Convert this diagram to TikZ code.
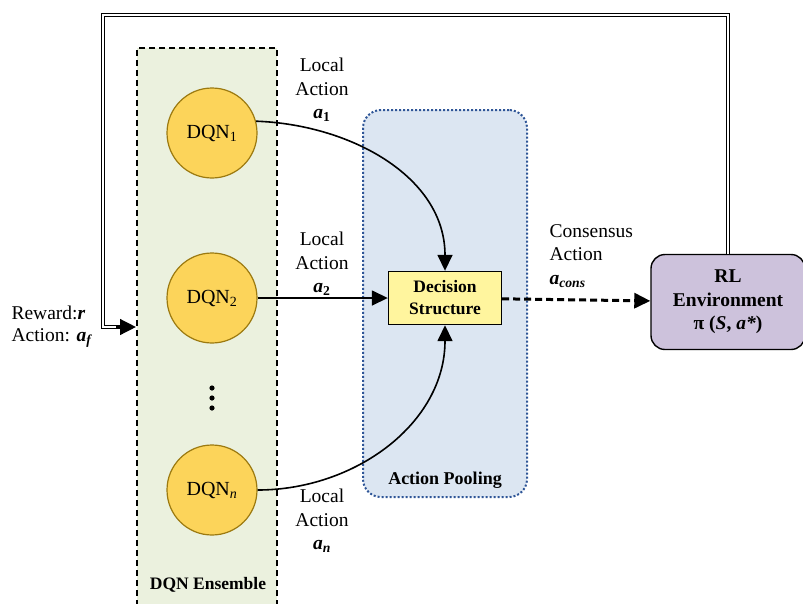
\documentclass[tikz,border=0pt]{standalone}
\usepackage{fontspec}
\setmainfont{Liberation Serif}
\usetikzlibrary{arrows.meta}

\definecolor{ensgreen}{HTML}{EBF1DE}
\definecolor{poolblue}{HTML}{DCE6F2}
\definecolor{pooledge}{HTML}{2E5597}
\definecolor{dqngold}{HTML}{FCD45A}
\definecolor{dqnedge}{HTML}{9C7A10}
\definecolor{decyellow}{HTML}{FFF59E}
\definecolor{envpurple}{HTML}{CDC2DC}

\tikzset{
  dqn/.style={circle,draw=dqnedge,line width=1.2pt,fill=dqngold,minimum size=90pt,font=\fontsize{20}{22}\selectfont},
  lbl/.style={align=center,font=\fontsize{19.5}{23.5}\selectfont},
  tip/.style={-{Triangle[width=15pt,length=16pt]}},
}

\begin{document}
\begin{tikzpicture}[x=1pt,y=-1pt]
\path[use as bounding box,clip] (0,0) rectangle (803,603);

% boxes
\node[draw,dashed,line width=1.6pt,dash pattern=on 6pt off 4pt,fill=ensgreen,minimum width=140pt,minimum height=558pt] (ensemble) at (207,327) {};
\node[draw=pooledge,dotted,line width=2pt,fill=poolblue,rounded corners=18pt,minimum width=164pt,minimum height=387pt] (pooling) at (445,303.5) {};
\node[font=\bfseries\fontsize{17.5}{19}\selectfont] (ensname) at (208,585) {DQN Ensemble};
\node[font=\bfseries\fontsize{18}{20}\selectfont] (poolname) at (445,480) {Action Pooling};

% nodes
\node[dqn] (dqnone) at (212,133) {DQN\textsubscript{1}};
\node[dqn] (dqntwo) at (212,298) {DQN\textsubscript{2}};
\node[dqn] (dqnn) at (212,490) {DQN\textsubscript{\textit{n}}};
\foreach \y in {388,398,408} \fill (212,\y) circle (2.6pt);
\node[draw,line width=1.4pt,fill=decyellow,minimum width=113pt,minimum height=53pt,align=center,font=\bfseries\fontsize{17.5}{22}\selectfont] (decision) at (445,298) {Decision\\Structure};
\node[draw,line width=1.4pt,fill=envpurple,rounded corners=14pt,minimum width=154pt,minimum height=95pt,align=center,font=\bfseries\fontsize{19.5}{23.5}\selectfont] (env) at (728,302) {RL\\Environment\\π (\textit{S}, \textit{a*})};

% labels
\node[lbl] (locone) at (322,90) {Local\\Action\\\textbf{\textit{a}\textsubscript{1}}};
\node[lbl] (loctwo) at (322,264) {Local\\Action\\\textbf{\textit{a}\textsubscript{2}}};
\node[lbl] (locn) at (322,521) {Local\\Action\\\textbf{\textit{a}\textsubscript{\textit{n}}}};
\node[lbl,align=left,anchor=west] (cons) at (546,256) {Consensus\\Action\\\textbf{\textit{a}\textsubscript{\textit{cons}}}};
\node[lbl,align=left,anchor=west,font=\fontsize{19.5}{22}\selectfont] (reward) at (8,327) {Reward:\textbf{\textit{r}}\\Action: \textbf{\textit{a}\textsubscript{\textit{f}}}};

% arrows
\draw[tip,line width=1.6pt] (dqnone.15) to[out=-2,in=90] (decision.north);
\draw[tip,line width=1.6pt] (dqntwo) -- (decision);
\draw[tip,line width=1.6pt] (dqnn.east) to[out=0,in=-90] (decision.south);
\draw[tip,line width=3pt,dash pattern=on 7pt off 4pt] (decision) -- (env);

% feedback
\coordinate (fb) at (116,327);
\draw[line width=1.2pt,double distance=2.4pt] (env.north) |- (103,15) |- (fb);
\draw[tip,line width=3.6pt] (fb) -- (ensemble.west);
\end{tikzpicture}
\end{document}
